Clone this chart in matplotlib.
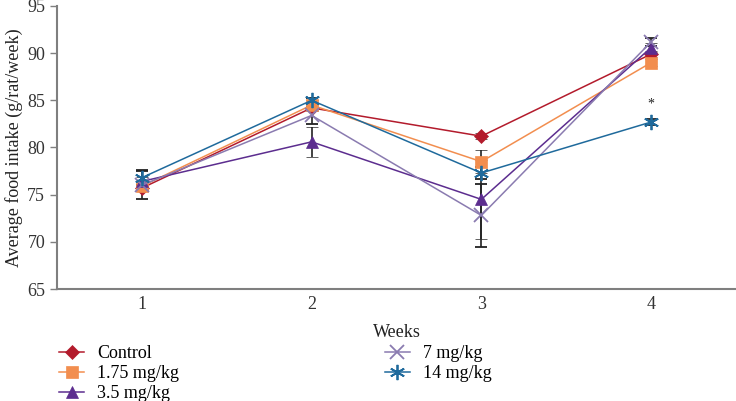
import numpy as np
import matplotlib.pyplot as plt
from matplotlib.lines import Line2D

plt.rcParams['font.family'] = ['Liberation Serif', 'DejaVu Serif']

# Data
weeks = [1, 2, 3, 4]
series_names = ['Control', '1.75 mg/kg', '3.5 mg/kg', '7 mg/kg', '14 mg/kg']
control = [75.7, 84.2, 81.2, 89.9]
control_err = [0.3, 0.3, 0.3, 0.3]
dose_175 = [75.9, 84.5, 78.5, 89.0]
dose_175_err = [0.4, 0.5, 1.2, 0.4]
dose_35 = [76.4, 80.6, 74.5, 90.6]
dose_35_err = [0.5, 1.6, 4.2, 0.5]
dose_7 = [76.0, 83.4, 72.8, 91.2]
dose_7_err = [1.5, 0.9, 3.3, 0.4]
dose_14 = [76.8, 85.0, 77.3, 82.7]
dose_14_err = [0.8, 0.3, 0.6, 0.3]

values = [control, dose_175, dose_35, dose_7, dose_14]
errors = [control_err, dose_175_err, dose_35_err, dose_7_err, dose_14_err]
colors = ['#b31b2c', '#f28e4f', '#5c2d8f', '#8a7bb0', '#1f6a9c']
markers = ['D', 's', '^', 'x', (6, 2, 0)]
msizes = [7, 8, 9, 10, 11]

fig = plt.figure(figsize=(7.36, 4.01), dpi=100)
ax = fig.add_axes([57 / 736, 1 - 289 / 401, 679 / 736, 283 / 401])

handles = []
for name, v, e, c, m, ms in zip(series_names, values, errors, colors, markers, msizes):
    mew = 1.3 if m in ('x', (6, 2, 0)) else 0.5
    ax.errorbar(weeks, v, yerr=e, color=c, ecolor='#222222', elinewidth=1.2,
                capsize=4, capthick=1.2, marker=m, markersize=ms,
                markeredgewidth=mew, markeredgecolor=c, linewidth=1.1)
    handles.append(Line2D([], [], color=c, marker=m, markersize=ms,
                          markeredgewidth=mew, markeredgecolor=c, linewidth=1.1))

# significance mark
ax.text(4, dose_14[3] + 1.2, '*', ha='center', va='bottom', fontsize=10, color='#222222')

ax.set_xlim(0.5, 4.5)
ax.set_ylim(65, 95)
ax.set_xticks(weeks)
ax.set_yticks(np.arange(65, 96, 5))
ax.spines['top'].set_visible(False)
ax.spines['right'].set_visible(False)
for s in ['left', 'bottom']:
    ax.spines[s].set_color('#7f7f7f')
    ax.spines[s].set_linewidth(1.5)
ax.tick_params(axis='x', length=0, pad=5, labelsize=13, labelcolor='#333333')
ax.tick_params(axis='y', length=5, width=1, color='#7f7f7f', labelsize=13, labelcolor='#333333')
ax.set_xlabel('Weeks', fontsize=13, labelpad=8, color='#222222')
ax.set_ylabel('Average food intake (g/rat/week)', fontsize=13, labelpad=3, color='#222222')

fig.legend(handles, series_names, loc='upper left', bbox_to_anchor=(50 / 736, 1 - 336 / 401),
           ncol=2, frameon=False, fontsize=13, handlelength=1.4, handletextpad=0.7,
           labelspacing=0.17, columnspacing=11.4, borderpad=0)

fig.savefig('out.png', dpi=100)
